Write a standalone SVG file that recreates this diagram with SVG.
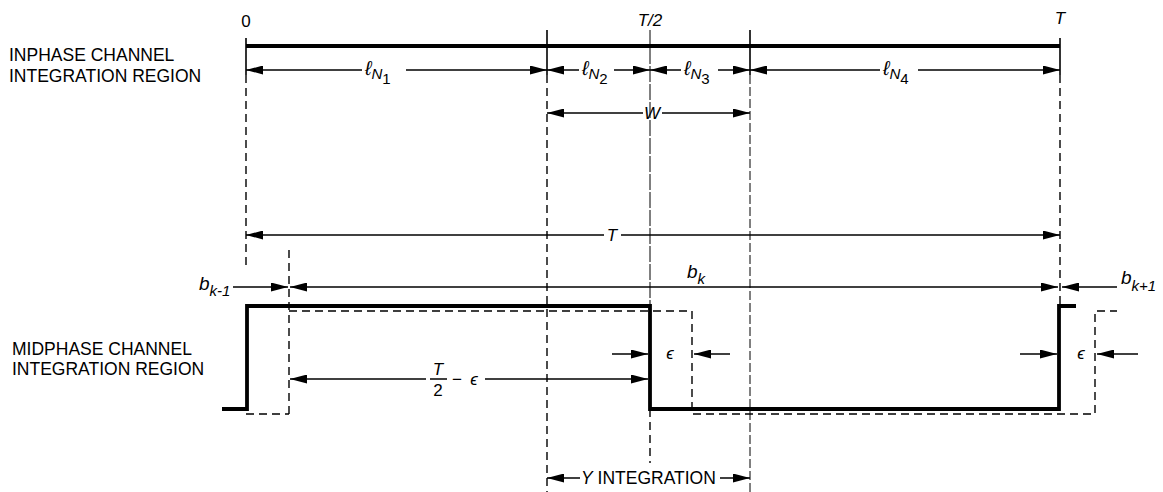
<svg xmlns="http://www.w3.org/2000/svg" width="1163" height="492" viewBox="0 0 1163 492">
<style>
text{font-family:"Liberation Sans",Arial,sans-serif;fill:#000}
.lab{font-size:17.5px}
.it{font-style:italic}
.num{font-size:17px}
.l{font-size:20px;font-style:italic}
.s1{font-size:15px;font-style:italic}
.s2{font-size:15px}
.bb{font-size:19px;font-style:italic}
.dim{stroke:#000;stroke-width:1.5;fill:none}
.arr{stroke:#000;stroke-width:1.5;fill:none;marker-end:url(#ah)}
.sol{stroke:#000;stroke-width:1.6;fill:none}
.dash{stroke:#000;stroke-width:1.4;fill:none;stroke-dasharray:8 5}
.thin{stroke:#000;stroke-width:1;fill:none;stroke-dasharray:16 2}
.thick{stroke:#000;stroke-width:3.8;fill:none;stroke-linejoin:miter}
</style>
<defs>
<marker id="ah" viewBox="0 0 17 9" refX="17" refY="4.5" markerWidth="17" markerHeight="9" markerUnits="userSpaceOnUse" orient="auto"><path d="M0,0 L17,4.5 L0,9 z" fill="#000"/></marker>
</defs>

<g id="titles">
<text class="lab" x="9" y="61">INPHASE CHANNEL</text>
<text class="lab" x="9" y="82">INTEGRATION REGION</text>
<text class="lab" x="12" y="355">MIDPHASE CHANNEL</text>
<text class="lab" x="12" y="375">INTEGRATION REGION</text>
</g>

<g id="time-marks">
<text class="num" x="246" y="27" text-anchor="middle">0</text>
<text class="num it" x="650" y="26" text-anchor="middle">T/2</text>
<text class="num it" x="1060" y="24" text-anchor="middle">T</text>
</g>

<g id="guides">
<line class="sol" x1="246" y1="38" x2="246" y2="75"/>
<line class="dash" x1="246" y1="75" x2="246" y2="265"/>
<line class="dash" x1="289" y1="250" x2="289" y2="414"/>
<line class="sol" x1="547" y1="30" x2="547" y2="75"/>
<line class="dash" x1="547" y1="75" x2="547" y2="492"/>
<line class="thin" x1="650" y1="30" x2="650" y2="306"/>
<line class="dash" x1="650" y1="409" x2="650" y2="463"/>
<line class="sol" x1="750" y1="30" x2="750" y2="75"/>
<line class="thin" x1="750" y1="75" x2="750" y2="492" style="stroke-dasharray:9 3"/>
<line class="sol" x1="1060" y1="38" x2="1060" y2="75"/>
<line class="dash" x1="1060" y1="75" x2="1060" y2="306"/>
</g>

<g id="inphase-region">
<path class="thick" d="M246,46 H1060"/>
</g>

<g id="midphase-waveform">
<path class="thick" d="M222,409 H247 V306 H650 V409 H1059 V306 H1076"/>
<path class="dash" d="M246,414 H289 M289,311 H692 V414 H1095 V311 H1117"/>
</g>

<g id="connectors">
<line class="arr" x1="362" y1="70" x2="246" y2="70"/>
<line class="arr" x1="406" y1="70" x2="547" y2="70"/>
<line class="arr" x1="579" y1="70" x2="547" y2="70"/>
<line class="arr" x1="614" y1="70" x2="650" y2="70"/>
<line class="arr" x1="681" y1="70" x2="650" y2="70"/>
<line class="arr" x1="718" y1="70" x2="750" y2="70"/>
<line class="arr" x1="880" y1="70" x2="750" y2="70"/>
<line class="arr" x1="918" y1="70" x2="1060" y2="70"/>
<line class="arr" x1="643" y1="113" x2="547" y2="113"/>
<line class="arr" x1="662" y1="113" x2="750" y2="113"/>
<line class="arr" x1="604" y1="235" x2="246" y2="235"/>
<line class="arr" x1="621" y1="235" x2="1060" y2="235"/>
<line class="arr" x1="233" y1="287" x2="288" y2="287"/>
<line class="arr" x1="680" y1="287" x2="290" y2="287"/>
<line class="arr" x1="680" y1="287" x2="1058" y2="287"/>
<line class="arr" x1="1117" y1="287" x2="1062" y2="287"/>
<line class="arr" x1="612" y1="354" x2="648" y2="354"/>
<line class="arr" x1="730" y1="354" x2="694" y2="354"/>
<line class="arr" x1="1020" y1="354" x2="1057" y2="354"/>
<line class="arr" x1="1138" y1="354" x2="1097" y2="354"/>
<line class="arr" x1="426" y1="379" x2="290" y2="379"/>
<line class="arr" x1="485" y1="379" x2="648" y2="379"/>
<line class="dim" x1="430" y1="379" x2="447" y2="379"/>
<line class="arr" x1="580" y1="478" x2="547" y2="478"/>
<line class="arr" x1="720" y1="478" x2="750" y2="478"/>
</g>

<g id="dim-labels">
<text x="365" y="75"><tspan class="l">ℓ</tspan><tspan class="s1" dy="4">N</tspan><tspan class="s2" dy="5">1</tspan></text>
<text x="582" y="75"><tspan class="l">ℓ</tspan><tspan class="s1" dy="4">N</tspan><tspan class="s2" dy="5">2</tspan></text>
<text x="684" y="75"><tspan class="l">ℓ</tspan><tspan class="s1" dy="4">N</tspan><tspan class="s2" dy="5">3</tspan></text>
<text x="883" y="75"><tspan class="l">ℓ</tspan><tspan class="s1" dy="4">N</tspan><tspan class="s2" dy="5">4</tspan></text>
<text class="num it" x="652" y="119" text-anchor="middle">W</text>
<text class="num it" x="612" y="241" text-anchor="middle">T</text>
<text x="199" y="290"><tspan class="bb">b</tspan><tspan class="s1" dy="6">k-1</tspan></text>
<text x="687" y="278"><tspan class="bb">b</tspan><tspan class="s1" dy="6">k</tspan></text>
<text x="1121" y="284"><tspan class="bb">b</tspan><tspan class="s1" dy="7">k+1</tspan></text>
<text class="num it" x="670" y="359" text-anchor="middle">ϵ</text>
<text class="num it" x="1081" y="359" text-anchor="middle">ϵ</text>
<text class="num it" x="438" y="375" text-anchor="middle">T</text>
<text class="num" x="438" y="396" text-anchor="middle">2</text>
<text class="num" x="457" y="385" text-anchor="middle">−</text>
<text class="num it" x="474" y="385" text-anchor="middle">ϵ</text>
<text class="lab" x="581" y="484"><tspan class="it">Y</tspan> INTEGRATION</text>
</g>
</svg>
